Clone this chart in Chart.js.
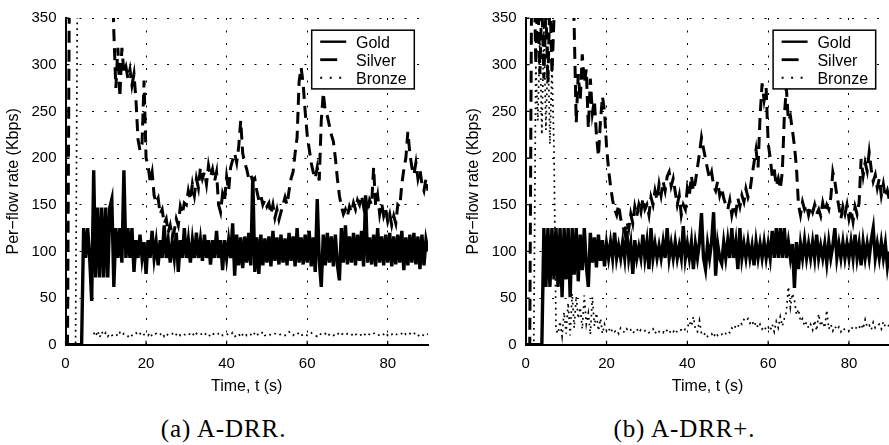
<!DOCTYPE html>
<html>
<head>
<meta charset="utf-8">
<script src="https://cdn.jsdelivr.net/npm/chart.js@4.4.1/dist/chart.umd.min.js"></script>
<style>
  html, body { margin: 0; padding: 0; background: #fff; }
  body { width: 889px; height: 445px; overflow: hidden; position: relative; }
  canvas { position: absolute; top: 0; }
  #chartA { left: 0; }
  #chartB { left: 460px; }
  .caption {
    position: absolute; top: 416px; height: 26px;
    font-family: "Liberation Serif", "DejaVu Serif", serif;
    font-size: 25px; line-height: 25px; letter-spacing: 0.9px;
    text-align: center; color: #000; white-space: nowrap;
  }
  #capA { left: 0; width: 447px; }
  #capB { left: 461px; width: 447px; }
</style>
</head>
<body>
<canvas id="chartA" width="460" height="400"></canvas>
<canvas id="chartB" width="462" height="400"></canvas>
<div class="caption" id="capA">(a) A-DRR.</div>
<div class="caption" id="capB">(b) A-DRR+.</div>
<script>
// Sampling instants, every 0.5 s from 0 to 90 s
const timeSec = Array.from({ length: 181 }, (_, i) => i / 2);

const seriesNames = ['Gold', 'Silver', 'Bronze'];
const xTicksStep = 20;
const yTicksStep = 50;
const xMax = 90;
const yMax = 350;

// ---- (a) A-DRR : per-flow rate in Kbps, one value per 0.5 s ----
const goldA = [
  0, 0, 0, 0, 0, 0, 0, 0, 0, 125, 93, 125, 93, 47, 187, 72, 147, 72, 147, 72,
  147, 72, 147, 156, 62, 125, 93, 125, 88, 187, 93, 125, 93, 125, 78, 112, 93, 118, 93, 110,
  76, 112, 93, 122, 93, 110, 85, 112, 93, 128, 93, 112, 88, 110, 93, 120, 78, 112, 93, 125,
  93, 112, 88, 112, 93, 120, 93, 112, 90, 118, 93, 112, 86, 112, 93, 122, 93, 112, 80, 112,
  93, 112, 93, 130, 74, 118, 85, 115, 82, 116, 88, 120, 85, 180, 78, 115, 76, 118, 85, 114,
  88, 116, 84, 122, 90, 115, 86, 118, 88, 114, 85, 120, 90, 116, 84, 125, 88, 115, 86, 118,
  88, 122, 84, 115, 78, 156, 90, 62, 118, 85, 120, 88, 116, 84, 118, 86, 69, 125, 88, 128,
  86, 116, 88, 120, 85, 118, 90, 122, 84, 160, 88, 115, 86, 118, 84, 125, 88, 116, 85, 118,
  88, 120, 84, 116, 86, 118, 88, 122, 80, 115, 85, 118, 88, 120, 86, 116, 81, 118, 85, 112,
  100
];
const silverA = [
  0, 0, 420, 420, 420, 420, 420, 420, 420, 420, 420, 420, 420, 420, 420, 420, 420, 420, 420, 420,
  420, 420, 420, 420, 335, 275, 318, 265, 318, 292, 298, 285, 295, 278, 290, 262, 220, 208, 215, 283,
  200, 192, 175, 185, 160, 152, 157, 140, 145, 130, 135, 120, 128, 115, 122, 135, 128, 148, 140, 152,
  150, 165, 155, 172, 160, 178, 168, 190, 178, 185, 172, 192, 180, 188, 175, 185, 150, 142, 162, 155,
  180, 165, 190, 198, 205, 195, 212, 240, 205, 195, 188, 178, 182, 175, 178, 165, 155, 160, 150, 155,
  148, 152, 140, 150, 136, 145, 134, 142, 150, 158, 150, 165, 178, 185, 205, 222, 282, 297, 280, 250,
  225, 210, 195, 185, 178, 190, 176, 240, 270, 250, 245, 235, 225, 218, 200, 178, 160, 148, 140, 145,
  138, 148, 142, 152, 145, 155, 150, 160, 148, 158, 142, 155, 150, 190, 148, 160, 140, 152, 138, 145,
  132, 140, 128, 138, 130, 150, 148, 172, 188, 200, 228, 205, 190, 182, 195, 178, 188, 172, 165, 178,
  165
];
const bronzeA = [
  0, 0, 0, 0, 0, 0, 420, null, null, null, null, null, null, null, 13, 9, 15, 8, 14, 10,
  13, 9, 12, 10, 11, 12, 9, 13, 10, 12, 11, 9, 12, 10, 11, 13, 10, 12, 9, 11,
  12, 10, 13, 9, 11, 12, 10, 11, 13, 9, 12, 10, 11, 12, 9, 11, 13, 10, 12, 11,
  10, 12, 11, 13, 9, 12, 10, 11, 12, 10, 13, 11, 9, 12, 11, 10, 12, 13, 10, 11,
  12, 10, 11, 13, 9, 10, 12, 8, 11, 13, 10, 12, 11, 9, 13, 10, 12, 11, 14, 10,
  11, 12, 10, 11, 12, 11, 10, 12, 11, 10, 12, 14, 11, 10, 12, 11, 13, 10, 11, 12,
  10, 12, 13, 11, 10, 9, 12, 11, 10, 12, 9, 11, 12, 10, 11, 13, 10, 12, 11, 10,
  12, 11, 10, 13, 11, 12, 10, 11, 13, 10, 12, 11, 10, 12, 13, 11, 10, 12, 11, 13,
  10, 12, 11, 13, 12, 10, 11, 12, 14, 11, 10, 12, 11, 13, 10, 9, 12, 11, 10, 12,
  11
];

// ---- (b) A-DRR+ : per-flow rate in Kbps, one value per 0.5 s ----
const goldB = [
  0, 0, 0, 0, 0, 0, 0, 0, 0, 125, 62, 125, 62, 125, 70, 125, 62, 125, 51, 125,
  70, 125, 51, 125, 75, 125, 68, 118, 80, 125, 85, 62, 120, 88, 115, 83, 118, 90, 112, 84,
  108, 93, 110, 93, 120, 93, 106, 93, 110, 93, 122, 93, 108, 76, 112, 93, 105, 93, 118, 93,
  110, 81, 125, 93, 108, 93, 106, 93, 110, 93, 125, 93, 108, 93, 110, 93, 106, 93, 127, 93,
  108, 93, 110, 81, 108, 93, 110, 141, 93, 81, 108, 93, 110, 142, 74, 108, 93, 87, 110, 93,
  112, 93, 125, 93, 110, 81, 125, 93, 108, 93, 110, 93, 106, 85, 110, 93, 108, 93, 110, 93,
  108, 93, 122, 93, 125, 93, 125, 93, 125, 93, 110, 93, 108, 61, 110, 81, 108, 93, 112, 93,
  108, 93, 110, 93, 118, 93, 106, 93, 108, 88, 110, 93, 106, 125, 93, 108, 93, 110, 93, 108,
  93, 110, 93, 118, 93, 108, 85, 110, 93, 108, 93, 112, 125, 93, 108, 93, 110, 93, 108, 84,
  100
];
const silverB = [
  0, 0, 0, 420, 420, 300, 380, 290, 370, 285, 360, 280, 375, 290, 350, 420, 420, 420, 420, 420,
  420, 420, 420, 420, 340, 238, 290, 262, 311, 280, 295, 232, 285, 248, 262, 225, 202, 240, 266, 250,
  213, 188, 170, 155, 145, 139, 150, 135, 128, 120, 132, 124, 140, 130, 148, 138, 150, 142, 157, 145,
  150, 139, 158, 150, 165, 155, 172, 160, 175, 165, 180, 185, 170, 178, 164, 150, 160, 139, 150, 145,
  168, 160, 181, 165, 175, 190, 205, 222, 210, 199, 188, 178, 185, 170, 165, 175, 160, 168, 157, 150,
  145, 155, 139, 150, 142, 157, 148, 160, 153, 167, 158, 165, 181, 195, 209, 190, 245, 280, 262, 275,
  216, 200, 181, 188, 170, 178, 167, 185, 245, 275, 240, 245, 230, 213, 190, 150, 139, 153, 145, 150,
  139, 148, 142, 150, 140, 145, 138, 152, 142, 150, 145, 158, 185, 175, 160, 148, 135, 148, 140, 150,
  135, 145, 132, 148, 140, 152, 199, 181, 195, 186, 206, 188, 175, 182, 168, 178, 160, 172, 158, 165,
  155
];
const bronzeB = [
  0, 0, 0, 0, 0, 300, 240, 330, 225, 340, 230, 320, 215, 300, 210, 16, 12, 25, 9, 35,
  12, 45, 10, 55, 18, 52, 28, 40, 17, 53, 22, 34, 11, 51, 20, 34, 15, 28, 12, 22,
  15, 18, 13, 17, 14, 16, 12, 18, 15, 13, 17, 14, 16, 12, 15, 17, 13, 16, 14, 15,
  16, 13, 15, 17, 12, 16, 14, 15, 13, 17, 15, 12, 16, 14, 17, 13, 15, 16, 14, 17,
  18, 25, 20, 30, 16, 14, 26, 12, 10, 13, 9, 11, 12, 8, 13, 10, 12, 11, 14, 12,
  15, 13, 18, 16, 21, 19, 24, 22, 27, 25, 28, 23, 26, 20, 24, 18, 22, 17, 20, 16,
  19, 15, 22, 14, 25, 18, 30, 20, 28, 35, 62, 40, 55, 48, 32, 38, 25, 28, 20, 24,
  18, 22, 16, 26, 15, 33, 20, 25, 18, 37, 17, 22, 15, 20, 16, 19, 14, 18, 16, 17,
  15, 19, 17, 16, 20, 18, 22, 17, 27, 19, 21, 16, 24, 18, 20, 22, 17, 25, 19, 21,
  20
];

const SANS = '"Liberation Sans", Arial, Helvetica, sans-serif';
Chart.defaults.font.family = SANS;
Chart.defaults.color = '#000';

const lineStyles = [
  { borderWidth: 3.4, borderDash: [] },          // solid
  { borderWidth: 3, borderDash: [12, 7] },       // dashed
  { borderWidth: 1.7, borderDash: [1.8, 4] }     // dotted
];

function toPoints(values) {
  return values.map((v, i) => ({ x: timeSec[i], y: v }));
}

// Inward tick marks on the left and bottom axes
const innerTicks = {
  id: 'innerTicks',
  afterDatasetsDraw(chart) {
    const { ctx, chartArea: a, scales: { x, y } } = chart;
    ctx.save();
    ctx.strokeStyle = '#000';
    ctx.lineWidth = 1.2;
    ctx.beginPath();
    x.ticks.forEach(t => {
      const px = x.getPixelForValue(t.value);
      ctx.moveTo(px, a.bottom); ctx.lineTo(px, a.bottom - 4);
    });
    y.ticks.forEach(t => {
      const py = y.getPixelForValue(t.value);
      ctx.moveTo(a.left, py); ctx.lineTo(a.left + 4, py);
    });
    ctx.stroke();
    ctx.restore();
  }
};

// Boxed legend in the upper right corner of the plot
const boxedLegend = {
  id: 'boxedLegend',
  afterDraw(chart) {
    const { ctx, chartArea: a } = chart;
    const w = 102.6, h = 58.7;
    const right = a.right - 13.7, top = a.top + 12.2;
    const left = right - w;
    ctx.save();
    ctx.fillStyle = '#fff';
    ctx.fillRect(left, top, w, h);
    ctx.strokeStyle = '#000';
    ctx.lineWidth = 1.5;
    ctx.strokeRect(left, top, w, h);
    ctx.font = '16px ' + SANS;
    ctx.fillStyle = '#000';
    ctx.textBaseline = 'alphabetic';
    const samples = [
      { dash: [], width: 2.4 },
      { dash: [17, 20], width: 2.8 },
      { dash: [2, 7.5], width: 2 }
    ];
    seriesNames.forEach((name, i) => {
      const base = top + 18 + i * 18;
      const ly = base - 6.5;
      ctx.beginPath();
      ctx.setLineDash(samples[i].dash);
      ctx.lineWidth = samples[i].width;
      ctx.moveTo(left + 8.5, ly);
      ctx.lineTo(left + 34.5, ly);
      ctx.stroke();
      ctx.setLineDash([]);
      ctx.fillText(name, left + 44.3, base);
    });
    ctx.restore();
  }
};

function makeChart(canvasId, series, plotLeft, padRight) {
  const datasets = series.map((vals, i) => ({
    label: seriesNames[i],
    data: toPoints(vals),
    borderColor: '#000',
    backgroundColor: '#000',
    borderWidth: lineStyles[i].borderWidth,
    borderDash: lineStyles[i].borderDash,
    borderJoinStyle: 'miter',
    pointRadius: 0,
    tension: 0,
    fill: false,
    spanGaps: false,
    order: 2 - i
  }));
  return new Chart(document.getElementById(canvasId), {
    type: 'line',
    data: { datasets },
    options: {
      responsive: false,
      animation: false,
      devicePixelRatio: 1,
      layout: { padding: { top: 13.3, right: padRight, left: 0, bottom: 0 } },
      plugins: { legend: { display: false }, tooltip: { enabled: false } },
      scales: {
        x: {
          type: 'linear', min: 0, max: xMax,
          ticks: { stepSize: xTicksStep, includeBounds: false, maxRotation: 0,
                   font: { size: 15 }, color: '#000', padding: 10 },
          grid: { color: '#000', lineWidth: 1, drawTicks: false },
          border: { display: true, color: '#000', width: 2, dash: [2, 10.5] },
          title: { display: true, text: 'Time, t (s)', color: '#000',
                   font: { size: 16 }, padding: { top: 0, bottom: 4 } },
          afterFit(scale) { scale.height = 55.2; }
        },
        y: {
          type: 'linear', min: 0, max: yMax,
          ticks: { stepSize: yTicksStep, includeBounds: false,
                   font: { size: 15 }, color: '#000', padding: 9 },
          grid: { color: '#000', lineWidth: 1, drawTicks: false },
          border: { display: true, color: '#000', width: 2, dash: [2, 10.5] },
          title: { display: true, text: 'Per\u2212flow rate (Kbps)', color: '#000',
                   font: { size: 16 }, padding: { top: 4, bottom: 0 } },
          afterFit(scale) { scale.width = plotLeft; }
        }
      }
    },
    plugins: [innerTicks, boxedLegend]
  });
}

makeChart('chartA', [goldA, silverA, bronzeA], 65.5, 32);
makeChart('chartB', [goldB, silverB, bronzeB], 65.7, 32.6);
</script>
</body>
</html>
